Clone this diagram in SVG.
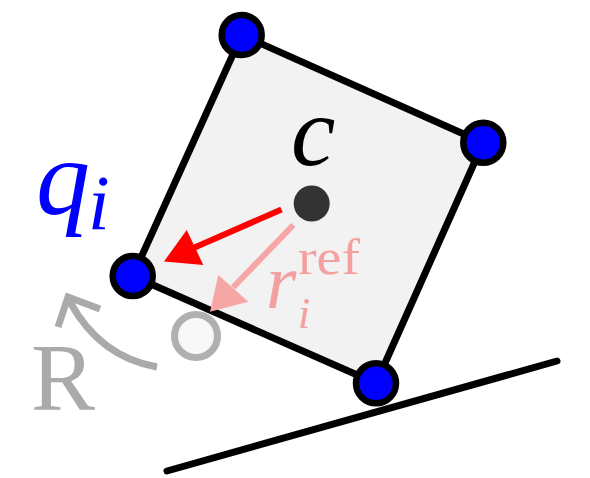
<svg xmlns="http://www.w3.org/2000/svg" width="590" height="478" viewBox="0 0 590 478">
<style>
.vtx{fill:#0000ff;stroke:#000;stroke-width:6.5}
.edge{stroke:#000;stroke-width:7;fill:none;stroke-linecap:round}
.mi{font-family:"Liberation Serif","Times New Roman",serif;font-style:italic}
.up{font-family:"Liberation Serif","Times New Roman",serif;font-style:normal}
</style>
<rect width="590" height="478" fill="#fff"/>
<g id="ground"><line class="edge" x1="167" y1="471" x2="557" y2="361"/></g>
<g id="body">
<polygon points="241.7,35 483.3,142.7 376,383.3 132.7,276" fill="#f2f2f2" stroke="#000" stroke-width="7" stroke-linejoin="round"/>
</g>
<g id="ref-point"><circle cx="196" cy="336" r="21.5" fill="#f8f8f8" stroke="#b0b0b0" stroke-width="7"/></g>
<g id="connectors">
<line x1="281.5" y1="209.5" x2="190" y2="249.5" stroke="#ff0000" stroke-width="6"/>
<polygon points="164,261.5 186.7,230 203.3,265" fill="#ff0000"/>
<line x1="293.3" y1="225" x2="233" y2="287.5" stroke="#f7a6a6" stroke-width="6"/>
<polygon points="210,311.7 218.3,275 248.3,301.7" fill="#f7a6a6"/>
<path d="M157,367 Q100,357 70,302" fill="none" stroke="#aaaaaa" stroke-width="7"/>
<polyline points="58,327 68,297 100,309" fill="none" stroke="#aaaaaa" stroke-width="7" stroke-linejoin="miter"/>
</g>
<g id="center"><circle cx="311.7" cy="203.5" r="18" fill="#333333"/></g>
<g id="v-top"><circle class="vtx" cx="241.7" cy="35" r="20"/></g>
<g id="v-right"><circle class="vtx" cx="483.3" cy="142.7" r="20"/></g>
<g id="v-bottom"><circle class="vtx" cx="376" cy="383.3" r="20"/></g>
<g id="v-left"><circle class="vtx" cx="132.7" cy="276" r="20"/></g>
<g id="labels">
<text class="mi" x="291" y="165" font-size="100" fill="#000">c</text>
<text class="mi" x="36" y="214" font-size="108" fill="#0000ff">q<tspan x="88" y="229" font-size="78">i</tspan></text>
<text class="mi" x="266" y="308" font-size="78" fill="#f4a0a0">r</text>
<text class="up" x="298" y="274" font-size="50" fill="#f4a0a0" textLength="62" lengthAdjust="spacingAndGlyphs">ref</text>
<text class="mi" x="298" y="328" font-size="44" fill="#f4a0a0">i</text>
<text class="up" x="31" y="410" font-size="96" fill="#aaaaaa">R</text>
</g>
</svg>
